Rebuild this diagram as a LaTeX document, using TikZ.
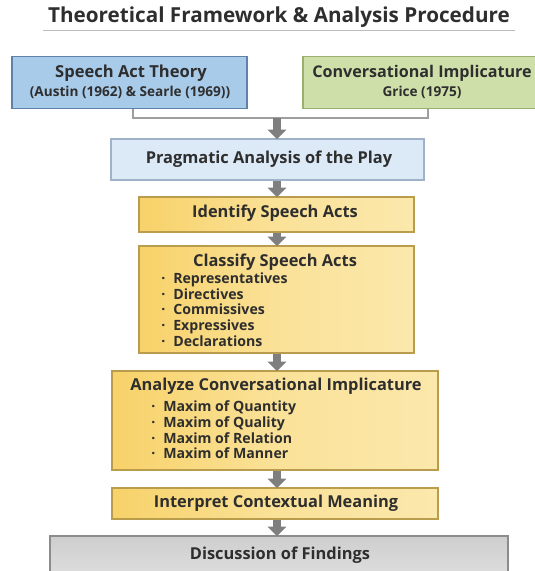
\documentclass[tikz,border=0pt]{standalone}
\usepackage{fontspec}
\setmainfont{Open Sans}
\usetikzlibrary{arrows.meta,calc}

\definecolor{inkc}{HTML}{2E2E2E}
\definecolor{rulec}{HTML}{BDBDBD}
\definecolor{satfill}{HTML}{A9CBEA}
\definecolor{satline}{HTML}{5F82A8}
\definecolor{cifill}{HTML}{CFDFAA}
\definecolor{ciline}{HTML}{9AB071}
\definecolor{pafill}{HTML}{DCE9F6}
\definecolor{paline}{HTML}{9FB2C8}
\definecolor{ydark}{HTML}{F8D269}
\definecolor{ylight}{HTML}{FBE8AC}
\definecolor{yline}{HTML}{B99C4C}
\definecolor{gtop}{HTML}{CECECE}
\definecolor{gbot}{HTML}{E0E0E0}
\definecolor{gline}{HTML}{8C8C8C}
\definecolor{arrowc}{HTML}{7F7F7F}
\definecolor{bracketc}{HTML}{9E9E9E}

\tikzset{
  box/.style={draw, line width=0.9pt, inner sep=0pt, text=inkc},
  sizepx/.style 2 args={minimum width=#1*0.75pt, minimum height=#2*0.75pt},
  bluebox/.style={box, draw=satline, fill=satfill},
  greenbox/.style={box, draw=ciline, fill=cifill},
  palebox/.style={box, draw=paline, fill=pafill},
  yellowbox/.style={box, draw=yline, left color=ydark, right color=ylight, middle color=ylight!70!ydark},
  greybox/.style={box, draw=gline, top color=gtop, bottom color=gbot},
  label/.style={text=inkc, inner sep=0pt, font=\bfseries\fontsize{12.3}{14}\selectfont},
  toplabel/.style={label, font=\bfseries\fontsize{12.4}{14}\selectfont},
  cilabel/.style={label, font=\bfseries\fontsize{12.1}{14}\selectfont},
  sublabel/.style={text=inkc, inner sep=0pt, font=\bfseries\fontsize{10.2}{12}\selectfont},
  listtext/.style={text=inkc, inner sep=0pt, align=left, anchor=north west,
    font=\bfseries\fontsize{10.6}{11.8}\selectfont},
  flow/.style={draw=arrowc, line width=6pt,
    -{Triangle[width=13.5pt,length=7pt]}, shorten >=-0.5pt},
  bracket/.style={draw=bracketc, line width=0.8pt},
}
\newcommand{\itemdot}{\textperiodcentered\hspace{6pt}}

\begin{document}
\begin{tikzpicture}[x=0.75pt,y=-0.75pt]
\useasboundingbox (0,0) rectangle (535,571);
\clip (0,0) rectangle (535,571);

% heading
\node[text=inkc, inner sep=0pt, font=\bfseries\fontsize{15.5}{17}\selectfont] (title) at (279,17)
  {Theoretical Framework \& Analysis Procedure};
\draw[rulec, line width=0.9pt] (43,30.5) -- (515,30.5);

% the two theories
\node[bluebox, sizepx={235}{52}] (sat) at (129.5,82.5) {};
\node[toplabel] (satA) at (131,73) {Speech Act Theory};
\node[sublabel] (satB) at (130,92) {(Austin (1962) \& Searle (1969))};

\node[greenbox, sizepx={242}{52}] (ci) at (424,82.5) {};
\node[cilabel]  (ciA) at (422,73) {Conversational Implicature};
\node[sublabel] (ciB) at (422,92) {Grice (1975)};

% joining bracket
\coordinate (join) at (277,118);
\draw[bracket] ($(sat.south)+(3.5,0)$) |- (join) -| ($(ci.south)+(4,0)$);

% main procedure
\node[palebox, sizepx={313}{41}] (prag) at (267.5,159.5) {};
\node[label] (pragT) at (269,159) {Pragmatic Analysis of the Play};

\node[yellowbox, sizepx={275}{35}] (ident) at (276.5,214.5) {};
\node[label] (identT) at (275,213) {Identify Speech Acts};

\node[yellowbox, sizepx={275}{107}] (class) at (276.5,299.5) {};
\node[label] (classT) at (275,262) {Classify Speech Acts};
\node[listtext] (classL) at (161,272.5)
  {\itemdot Representatives\\
   \itemdot Directives\\
   \itemdot Commissives\\
   \itemdot Expressives\\
   \itemdot Declarations};

\node[yellowbox, sizepx={326}{99}] (impl) at (275,420.5) {};
\node[label] (implT) at (276,386) {Analyze Conversational Implicature};
\node[listtext] (implL) at (151,400.5)
  {\itemdot Maxim of Quantity\\
   \itemdot Maxim of Quality\\
   \itemdot Maxim of Relation\\
   \itemdot Maxim of Manner};

\node[yellowbox, sizepx={326}{31}] (interp) at (275,503.5) {};
\node[label] (interpT) at (276,503) {Interpret Contextual Meaning};

\node[greybox, sizepx={458}{46}] (disc) at (279,559) {};
\node[label] (discT) at (280,555) {Discussion of Findings};

% arrows down the column
\coordinate (col) at (277,0);
\draw[flow] (join) -- (prag.north -| col);
\draw[flow] (prag.south -| col) -- (ident.north -| col);
\draw[flow] (ident.south -| col) -- (class.north -| col);
\draw[flow] (class.south -| col) -- (impl.north -| col);
\draw[flow] (impl.south -| col) -- (interp.north -| col);
\draw[flow] (interp.south -| col) -- (disc.north -| col);
\end{tikzpicture}
\end{document}
